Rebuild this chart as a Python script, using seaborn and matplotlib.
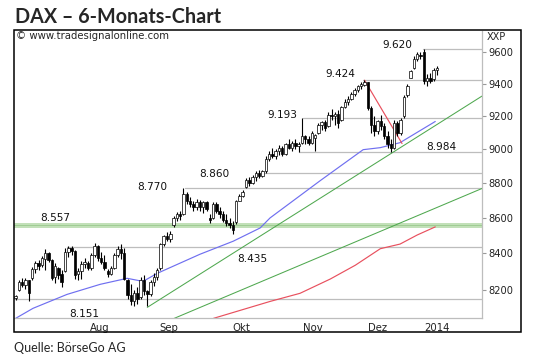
import matplotlib
matplotlib.use("Agg")
import matplotlib.pyplot as plt
import seaborn as sns
from matplotlib.patches import Rectangle
from matplotlib.ticker import FixedLocator, NullLocator, FuncFormatter

# ---------------- data ----------------
opens = [8155, 8200, 8240, 8225, 8250, 8262, 8315, 8345, 8335, 8370,
         8400, 8365, 8270, 8320, 8285, 8300, 8410, 8430, 8415, 8285,
         8300, 8340, 8345, 8320, 8390, 8440, 8375, 8350, 8300, 8285,
         8320, 8390, 8425, 8400, 8250, 8170, 8140, 8180, 8160, 8250,
         8190, 8175, 8240, 8270, 8320, 8450, 8495, 8480, 8560, 8600,
         8620, 8620, 8740, 8700, 8680, 8660, 8690, 8660, 8690, 8600,
         8600, 8680, 8640, 8620, 8590, 8570, 8560, 8575, 8700, 8725,
         8780, 8820, 8800, 8840, 8860, 8845, 8870, 8945, 8975, 8960,
         8990, 9010, 8975, 9030, 9010, 9040, 9020, 9040, 9080, 9060,
         9040, 9070, 9100, 9150, 9165, 9140, 9210, 9200, 9215, 9180,
         9260, 9290, 9310, 9340, 9365, 9385, 9395, 9410, 9250, 9150,
         9110, 9170, 9140, 9080, 9030, 9010, 9160, 9100, 9200, 9330,
         9440, 9500, 9560, 9585, 9600, 9420, 9435, 9430, 9490]
highs = [8172, 8255, 8262, 8262, 8255, 8326, 8360, 8365, 8385, 8425,
         8410, 8370, 8345, 8325, 8305, 8430, 8440, 8440, 8420, 8320,
         8355, 8375, 8360, 8400, 8457, 8445, 8410, 8390, 8315, 8330,
         8400, 8440, 8450, 8430, 8260, 8230, 8200, 8215, 8270, 8280,
         8200, 8250, 8290, 8320, 8460, 8505, 8520, 8525, 8610, 8635,
         8640, 8770, 8750, 8720, 8700, 8710, 8705, 8700, 8700, 8625,
         8690, 8690, 8660, 8640, 8620, 8600, 8580, 8705, 8735, 8760,
         8830, 8840, 8850, 8870, 8880, 8880, 8960, 8990, 9010, 9000,
         9025, 9020, 9040, 9065, 9050, 9060, 9045, 9193, 9090, 9080,
         9110, 9095, 9160, 9175, 9180, 9230, 9245, 9225, 9240, 9265,
         9310, 9325, 9350, 9375, 9395, 9410, 9424, 9415, 9265, 9200,
         9180, 9210, 9160, 9110, 9060, 9180, 9175, 9190, 9330, 9400,
         9490, 9575, 9600, 9605, 9620, 9460, 9470, 9500, 9515]
lows = [8145, 8195, 8215, 8205, 8140, 8255, 8290, 8310, 8325, 8310,
        8350, 8250, 8235, 8260, 8215, 8295, 8380, 8390, 8260, 8250,
        8260, 8320, 8305, 8310, 8380, 8360, 8340, 8305, 8270, 8280,
        8315, 8380, 8370, 8250, 8150, 8115, 8110, 8120, 8150, 8170,
        8110, 8165, 8220, 8250, 8310, 8440, 8470, 8465, 8550, 8585,
        8590, 8615, 8680, 8660, 8640, 8645, 8640, 8630, 8640, 8570,
        8595, 8630, 8600, 8575, 8555, 8540, 8510, 8565, 8695, 8720,
        8775, 8785, 8795, 8815, 8830, 8835, 8860, 8930, 8950, 8945,
        8965, 8960, 8965, 9000, 8990, 9005, 8984, 9030, 9030, 9025,
        9035, 8990, 9095, 9120, 9110, 9135, 9180, 9150, 9130, 9175,
        9250, 9270, 9300, 9325, 9350, 9370, 9385, 9240, 9100, 9080,
        9095, 9120, 9060, 9010, 8984, 9000, 9080, 9090, 9190, 9320,
        9435, 9495, 9545, 9560, 9400, 9390, 9405, 9420, 9455]
closes = [8165, 8240, 8225, 8250, 8180, 8315, 8345, 8330, 8375, 8400,
          8365, 8265, 8330, 8280, 8240, 8410, 8430, 8415, 8280, 8300,
          8340, 8350, 8320, 8390, 8440, 8375, 8350, 8320, 8285, 8320,
          8390, 8425, 8400, 8260, 8170, 8140, 8180, 8150, 8250, 8190,
          8175, 8240, 8270, 8310, 8450, 8495, 8480, 8510, 8600, 8620,
          8610, 8740, 8700, 8680, 8660, 8690, 8660, 8690, 8650, 8590,
          8680, 8640, 8620, 8590, 8570, 8560, 8530, 8700, 8725, 8750,
          8820, 8800, 8840, 8860, 8845, 8870, 8945, 8975, 8960, 8990,
          9010, 8975, 9030, 9010, 9040, 9020, 9035, 9080, 9060, 9040,
          9100, 9085, 9150, 9165, 9130, 9210, 9200, 9215, 9160, 9255,
          9290, 9310, 9340, 9365, 9385, 9400, 9415, 9250, 9150, 9110,
          9170, 9140, 9080, 9030, 9010, 9160, 9100, 9180, 9320, 9390,
          9480, 9560, 9590, 9575, 9420, 9435, 9420, 9490, 9500]

# moving averages (index, value) read at key points
blue_idx = [-0.5, 5.3, 15.6, 25.7, 33.9, 38.7, 43.0, 47.8, 56.0, 66.1, 74.3, 77.3, 92.5, 105.6, 110.8, 116.8, 127.5]
blue_val = [8040, 8099, 8174, 8229, 8262, 8245, 8289, 8328, 8395, 8468, 8543, 8600, 8815, 8999, 9011, 9041, 9169]
red_idx = [60.1, 77.3, 86.4, 95.6, 103.2, 110.8, 116.8, 122.0, 127.5]
red_val = [8045, 8136, 8180, 8258, 8334, 8426, 8452, 8503, 8549]

# trend lines (start/end)
green1_idx, green1_val = [40.0, 141.7], [8104, 9325]
green2_idx, green2_val = [47.5, 141.7], [8040, 8770]
red_trend_idx, red_trend_val = [106.0, 117.4], [9424, 9036]

# horizontal levels and where they begin
levels = [9620, 9424, 9193, 8984, 8860, 8770, 8435, 8151]
level_start = [123.7, 105.6, 87.4, 86.0, 75.2, 51.5, 15.6, -0.5]
band_level = 8557
level_texts = ["9.620", "9.424", "9.193", "8.984", "8.860", "8.770", "8.557", "8.435", "8.151"]

y_ticks = [8200, 8400, 8600, 8800, 9000, 9200, 9400, 9600]
month_labels = ["Aug", "Sep", "Okt", "Nov", "Dez", "2014"]

# ---------------- layout ----------------
label_pos = [(115.9, 9647), (98.6, 9462), (81.0, 9206), (129.3, 9017), (60.3, 8856),
             (41.5, 8780), (12.0, 8600), (71.85, 8367), (20.8, 8066)]
month_bounds = [14.7, 36.9, 57.9, 80.7, 101.3, 119.6]
month_label_pos = [25.7, 46.4, 68.5, 90.4, 109.9, 128.1]
XMIN, XMAX = -0.49, 141.7
YMIN, YMAX = 8047, 9737

sns.set_style("white")
plt.rcParams['font.family'] = ['DejaVu Sans']

W, H = 540, 361
fig = plt.figure(figsize=(W / 100, H / 100), dpi=100)
ax = fig.add_axes([14 / W, (H - 318) / H, 468 / W, 287 / H])
ax.set_yscale('log')
ax.set_xlim(XMIN, XMAX)
ax.set_ylim(YMIN, YMAX)

GRAY = '#bdbdbd'
GREEN = '#4fa84f'
# horizontal level lines
for lv, st in zip(levels, level_start):
    ax.plot([st, XMAX], [lv, lv], color=GRAY, lw=0.9, zorder=1)
ax.axhline(band_level, color='#c2e0b8', lw=3.6, zorder=1)
ax.axhline(band_level, color='#9fcd93', lw=0.7, zorder=1)

# trend lines and moving averages
sns.lineplot(x=green1_idx, y=green1_val, ax=ax, color=GREEN, lw=0.75, estimator=None, sort=False, zorder=2)
sns.lineplot(x=green2_idx, y=green2_val, ax=ax, color=GREEN, lw=0.75, estimator=None, sort=False, zorder=2)
sns.lineplot(x=blue_idx, y=blue_val, ax=ax, color='#6f6ff0', lw=0.85, estimator=None, sort=False, zorder=2)
sns.lineplot(x=red_idx, y=red_val, ax=ax, color='#e8505e', lw=0.85, estimator=None, sort=False, zorder=2)
sns.lineplot(x=red_trend_idx, y=red_trend_val, ax=ax, color='#e8505e', lw=0.85, estimator=None, sort=False, zorder=2)

# candles
idx = list(range(len(closes)))
ax.vlines(idx, lows, highs, color='black', lw=0.8, zorder=3)
for i, (o, c) in enumerate(zip(opens, closes)):
    lo, hi = min(o, c), max(o, c)
    hgt = max(hi - lo, 3)
    up = c >= o
    ax.bar(i, hgt, bottom=lo, width=0.75, color='white' if up else 'black',
           edgecolor='black', linewidth=0.5, zorder=4)

# level annotations
for t, (xx, yy) in zip(level_texts, label_pos):
    ax.text(xx, yy, t, ha='center', va='center', fontsize=7.6, color='#111111', zorder=5)

# axes styling
for s in ['left', 'top']:
    ax.spines[s].set_visible(False)
for s in ['right', 'bottom']:
    ax.spines[s].set_color(GRAY)
    ax.spines[s].set_linewidth(0.9)

ax.yaxis.tick_right()
ax.yaxis.set_major_locator(FixedLocator(y_ticks))
ax.yaxis.set_minor_locator(NullLocator())
ax.yaxis.set_major_formatter(FuncFormatter(lambda v, p: f"{v:.0f}"))
ax.tick_params(axis='y', which='major', direction='out', length=3, width=0.8,
               color='#999999', labelsize=7.1, pad=1.5, labelcolor='#222222')

ax.xaxis.set_major_locator(FixedLocator(month_label_pos))
ax.set_xticklabels(month_labels)
ax.xaxis.set_minor_locator(FixedLocator(month_bounds))
ax.tick_params(axis='x', which='major', length=0, pad=3.5, labelsize=7.3, labelcolor='#222222')
ax.tick_params(axis='x', which='minor', direction='out', length=2.5, width=0.8, color='#999999')
ax.set_xlabel('')
ax.set_ylabel('')

# outer frame and texts
fig.add_artist(Rectangle((14 / W, (H - 332) / H), 507 / W, 302 / H, transform=fig.transFigure,
                         fill=False, ec='black', lw=1.1))
fig.text(15 / W, (H - 23) / H, "DAX – 6-Monats-Chart", fontfamily='Lato', fontweight='bold',
         fontsize=14.2, va='baseline', ha='left')
fig.text(14 / W, (H - 352) / H, "Quelle: BörseGo AG", fontfamily='Lato', fontsize=9.0,
         va='baseline', ha='left')
fig.text(16 / W, (H - 36) / H, "© www.tradesignalonline.com", fontsize=7.3, va='center', ha='left')
fig.text(496 / W, (H - 36.5) / H, "XXP", fontsize=7, va='center', ha='center')

fig.savefig("out.png", dpi=100, facecolor='white')
